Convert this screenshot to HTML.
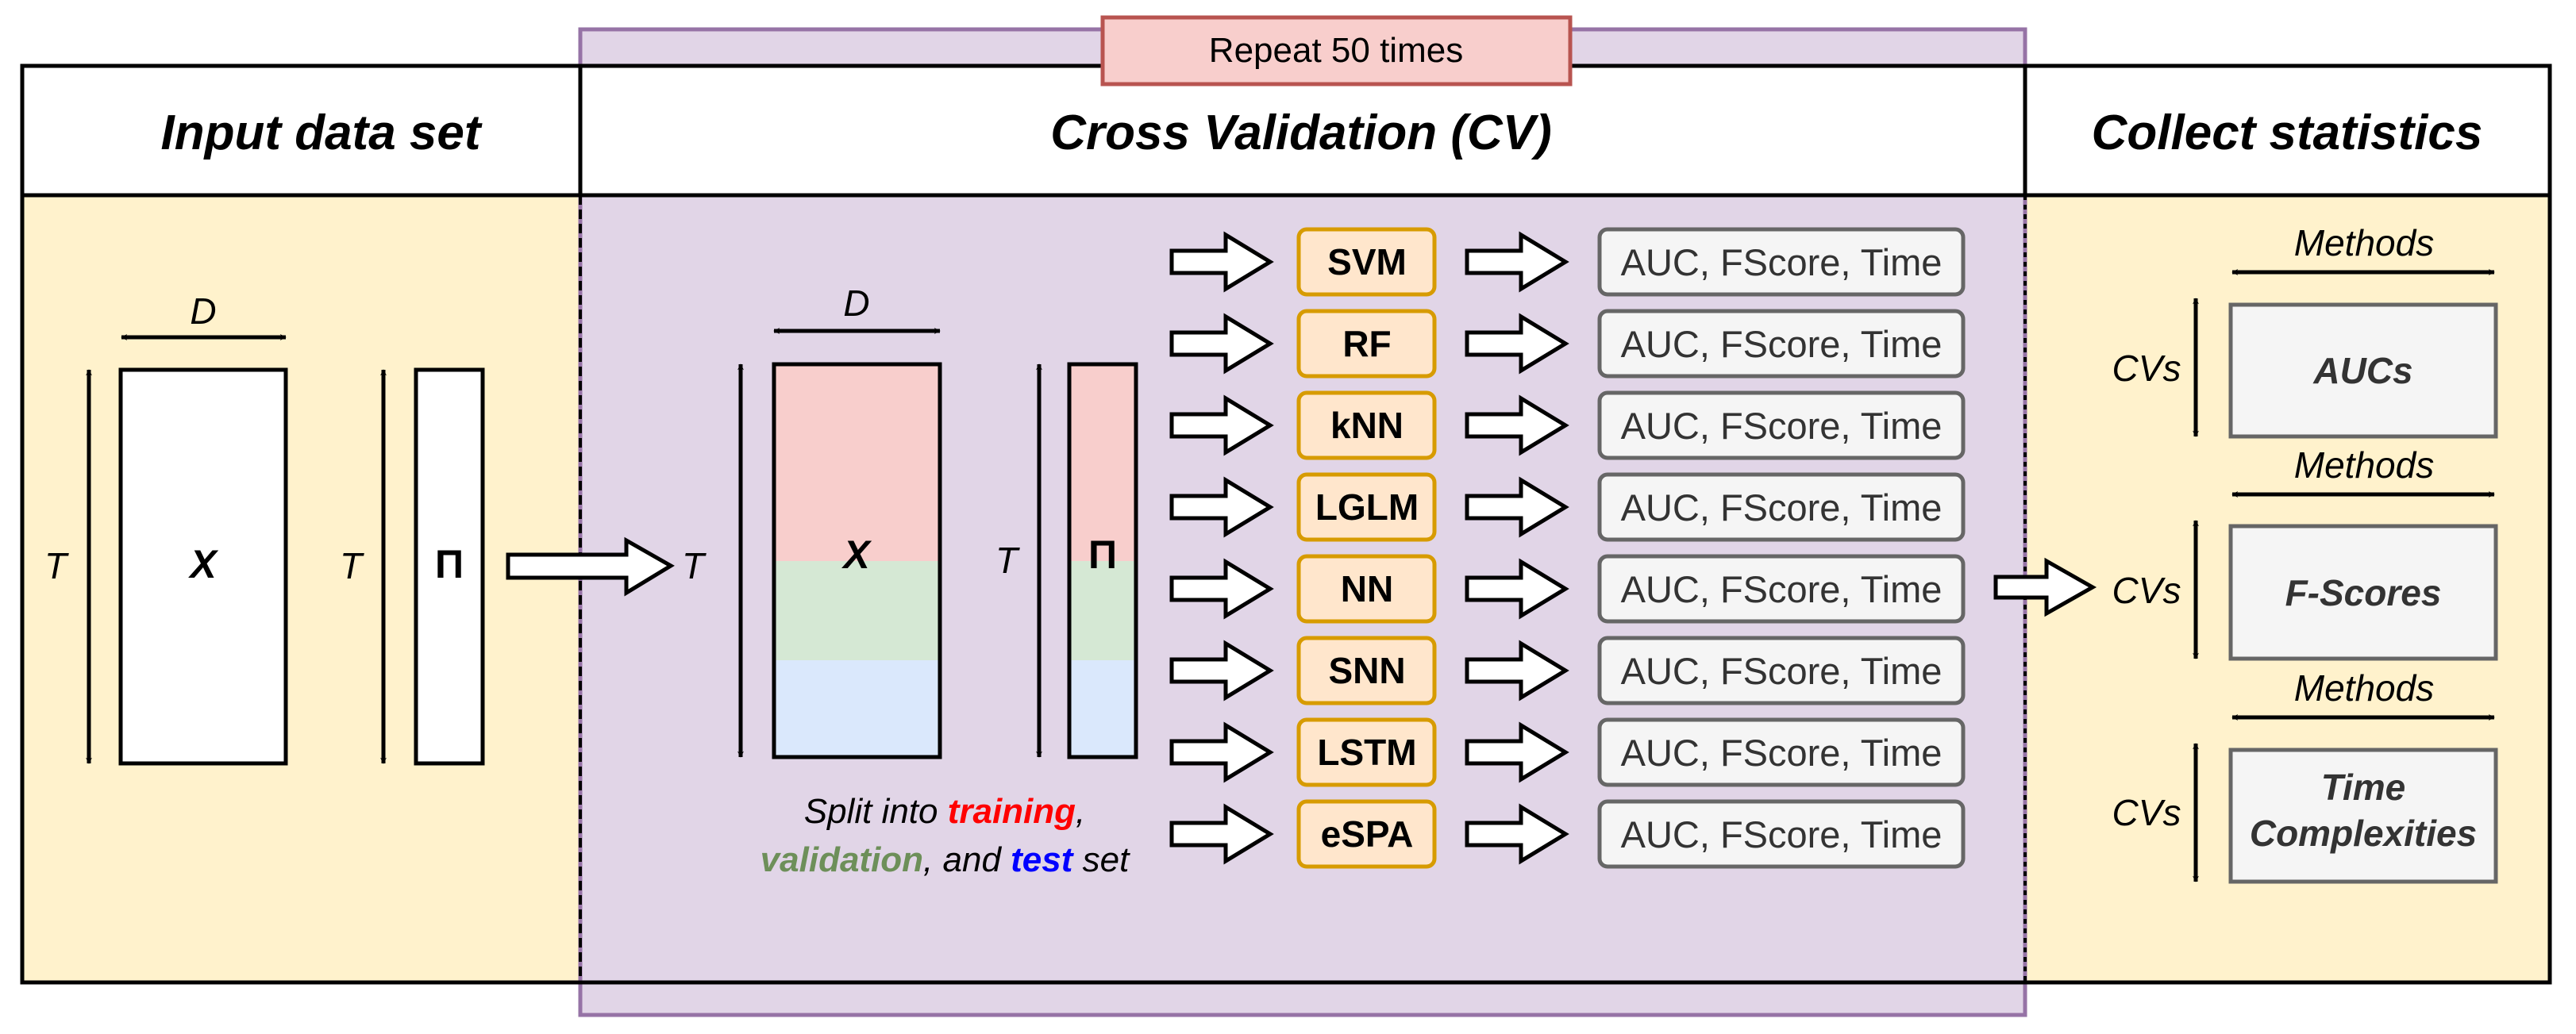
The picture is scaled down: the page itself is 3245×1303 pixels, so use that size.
<!DOCTYPE html>
<html><head><meta charset="utf-8"><style>
html,body{margin:0;padding:0;background:#fff;}
svg{display:block;}
text{font-family:"Liberation Sans",Arial,sans-serif;}
</style></head><body>
<svg width="3245" height="1303" viewBox="0 0 3245 1303" xmlns="http://www.w3.org/2000/svg">
<defs>
<marker id="ah" viewBox="0 0 20 20" refX="18" refY="10" markerWidth="8" markerHeight="8" markerUnits="userSpaceOnUse" orient="auto-start-reverse" overflow="visible">
<path d="M0,0 L20,10 L0,20 L6,10 Z" fill="#000"/>
</marker>
</defs>
<!-- yellow backgrounds -->
<rect x="28" y="246" width="703" height="992" fill="#fff2cc"/>
<rect x="2551" y="246" width="661" height="992" fill="#fff2cc"/>
<!-- purple -->
<rect x="731" y="37" width="1820" height="1242" fill="#e1d5e7" stroke="#9673a6" stroke-width="5"/>
<!-- headers white -->
<rect x="28" y="83" width="3184" height="163" fill="#fff"/>
<!-- outer box -->
<rect x="28" y="83" width="3184" height="1155" fill="none" stroke="#000" stroke-width="5"/>
<line x1="28" y1="246" x2="3212" y2="246" stroke="#000" stroke-width="5"/>
<line x1="731" y1="83" x2="731" y2="246" stroke="#000" stroke-width="5"/>
<line x1="2551" y1="83" x2="2551" y2="246" stroke="#000" stroke-width="5"/>
<line x1="731" y1="246" x2="731" y2="1238" stroke="#000" stroke-width="4" stroke-dasharray="12,6"/>
<line x1="2551" y1="246" x2="2551" y2="1238" stroke="#000" stroke-width="4" stroke-dasharray="6,6"/>
<!-- repeat -->
<rect x="1389" y="22" width="589" height="84" fill="#f8cecc" stroke="#b85450" stroke-width="5"/>
<text x="1683" y="78" font-size="44" text-anchor="middle">Repeat 50 times</text>
<!-- headers -->
<g font-size="62" font-weight="bold" font-style="italic" text-anchor="middle">
<text x="404" y="188">Input data set</text>
<text x="1639" y="188">Cross Validation (CV)</text>
<text x="2881" y="188">Collect statistics</text>
</g>
<!-- Input data -->
<rect x="152" y="466" width="208" height="496" fill="#fff" stroke="#000" stroke-width="5"/>
<rect x="524" y="466" width="84" height="496" fill="#fff" stroke="#000" stroke-width="5"/>
<g stroke="#000" stroke-width="5" marker-start="url(#ah)" marker-end="url(#ah)">
<line x1="153" y1="425" x2="360" y2="425"/>
<line x1="112" y1="466" x2="112" y2="962"/>
<line x1="483" y1="466" x2="483" y2="962"/>
<line x1="933" y1="459" x2="933" y2="954"/>
<line x1="975" y1="417" x2="1184" y2="417"/>
<line x1="1309" y1="459" x2="1309" y2="954"/>
</g>
<g font-size="46" font-style="italic" text-anchor="middle">
<text x="256" y="408">D</text>
<text x="70" y="729">T</text>
<text x="442" y="729">T</text>
<text x="873" y="729">T</text>
<text x="1079" y="398">D</text>
<text x="1268" y="722">T</text>
</g>
<text x="256" y="728" font-family="Liberation Serif,serif" font-size="50" font-weight="bold" font-style="italic" text-anchor="middle">X</text>
<text x="566" y="728" font-family="Liberation Serif,serif" font-size="50" font-weight="bold" text-anchor="middle">Π</text>
<!-- big arrow -->
<polygon points="640,699 789,699 789,681 845,713 789,747 789,728 640,728" fill="#fff" stroke="#000" stroke-width="5"/>
<!-- CV matrix -->
<rect x="975" y="459" width="209" height="248" fill="#f8cecc"/>
<rect x="975" y="707" width="209" height="125" fill="#d5e8d4"/>
<rect x="975" y="832" width="209" height="122" fill="#dae8fc"/>
<rect x="975" y="459" width="209" height="495" fill="none" stroke="#000" stroke-width="5"/>
<rect x="1347" y="459" width="84" height="248" fill="#f8cecc"/>
<rect x="1347" y="707" width="84" height="125" fill="#d5e8d4"/>
<rect x="1347" y="832" width="84" height="122" fill="#dae8fc"/>
<rect x="1347" y="459" width="84" height="495" fill="none" stroke="#000" stroke-width="5"/>
<text x="1079" y="716" font-family="Liberation Serif,serif" font-size="50" font-weight="bold" font-style="italic" text-anchor="middle">X</text>
<text x="1389" y="716" font-family="Liberation Serif,serif" font-size="50" font-weight="bold" text-anchor="middle">Π</text>
<g font-size="44" font-style="italic" text-anchor="middle">
<text x="1190" y="1037">Split into <tspan fill="#ff0000" font-weight="bold">training</tspan>,</text>
<text x="1190" y="1098"><tspan fill="#6d8f59" font-weight="bold">validation</tspan>, and <tspan fill="#0000ff" font-weight="bold">test</tspan> set</text>
</g>
<!-- model rows -->
<g id="rows">
<g transform="translate(0,330)">
<polygon points="1476,-14 1544,-14 1544,-34 1600,0 1544,34 1544,14 1476,14" fill="#fff" stroke="#000" stroke-width="5"/>
<rect x="1636" y="-41" width="171" height="82" rx="10" fill="#ffe6cc" stroke="#d79b00" stroke-width="5"/>
<polygon points="1848,-14 1916,-14 1916,-34 1972,0 1916,34 1916,14 1848,14" fill="#fff" stroke="#000" stroke-width="5"/>
<rect x="2015" y="-41" width="458" height="82" rx="10" fill="#f5f5f5" stroke="#666" stroke-width="5"/>
<text x="1722" y="16" font-size="46" font-weight="bold" text-anchor="middle">SVM</text>
<text x="2244" y="17" font-size="47" fill="#333" text-anchor="middle">AUC, FScore, Time</text>
</g>
<g transform="translate(0,433)">
<polygon points="1476,-14 1544,-14 1544,-34 1600,0 1544,34 1544,14 1476,14" fill="#fff" stroke="#000" stroke-width="5"/>
<rect x="1636" y="-41" width="171" height="82" rx="10" fill="#ffe6cc" stroke="#d79b00" stroke-width="5"/>
<polygon points="1848,-14 1916,-14 1916,-34 1972,0 1916,34 1916,14 1848,14" fill="#fff" stroke="#000" stroke-width="5"/>
<rect x="2015" y="-41" width="458" height="82" rx="10" fill="#f5f5f5" stroke="#666" stroke-width="5"/>
<text x="1722" y="16" font-size="46" font-weight="bold" text-anchor="middle">RF</text>
<text x="2244" y="17" font-size="47" fill="#333" text-anchor="middle">AUC, FScore, Time</text>
</g>
<g transform="translate(0,536)">
<polygon points="1476,-14 1544,-14 1544,-34 1600,0 1544,34 1544,14 1476,14" fill="#fff" stroke="#000" stroke-width="5"/>
<rect x="1636" y="-41" width="171" height="82" rx="10" fill="#ffe6cc" stroke="#d79b00" stroke-width="5"/>
<polygon points="1848,-14 1916,-14 1916,-34 1972,0 1916,34 1916,14 1848,14" fill="#fff" stroke="#000" stroke-width="5"/>
<rect x="2015" y="-41" width="458" height="82" rx="10" fill="#f5f5f5" stroke="#666" stroke-width="5"/>
<text x="1722" y="16" font-size="46" font-weight="bold" text-anchor="middle">kNN</text>
<text x="2244" y="17" font-size="47" fill="#333" text-anchor="middle">AUC, FScore, Time</text>
</g>
<g transform="translate(0,639)">
<polygon points="1476,-14 1544,-14 1544,-34 1600,0 1544,34 1544,14 1476,14" fill="#fff" stroke="#000" stroke-width="5"/>
<rect x="1636" y="-41" width="171" height="82" rx="10" fill="#ffe6cc" stroke="#d79b00" stroke-width="5"/>
<polygon points="1848,-14 1916,-14 1916,-34 1972,0 1916,34 1916,14 1848,14" fill="#fff" stroke="#000" stroke-width="5"/>
<rect x="2015" y="-41" width="458" height="82" rx="10" fill="#f5f5f5" stroke="#666" stroke-width="5"/>
<text x="1722" y="16" font-size="46" font-weight="bold" text-anchor="middle">LGLM</text>
<text x="2244" y="17" font-size="47" fill="#333" text-anchor="middle">AUC, FScore, Time</text>
</g>
<g transform="translate(0,742)">
<polygon points="1476,-14 1544,-14 1544,-34 1600,0 1544,34 1544,14 1476,14" fill="#fff" stroke="#000" stroke-width="5"/>
<rect x="1636" y="-41" width="171" height="82" rx="10" fill="#ffe6cc" stroke="#d79b00" stroke-width="5"/>
<polygon points="1848,-14 1916,-14 1916,-34 1972,0 1916,34 1916,14 1848,14" fill="#fff" stroke="#000" stroke-width="5"/>
<rect x="2015" y="-41" width="458" height="82" rx="10" fill="#f5f5f5" stroke="#666" stroke-width="5"/>
<text x="1722" y="16" font-size="46" font-weight="bold" text-anchor="middle">NN</text>
<text x="2244" y="17" font-size="47" fill="#333" text-anchor="middle">AUC, FScore, Time</text>
</g>
<g transform="translate(0,845)">
<polygon points="1476,-14 1544,-14 1544,-34 1600,0 1544,34 1544,14 1476,14" fill="#fff" stroke="#000" stroke-width="5"/>
<rect x="1636" y="-41" width="171" height="82" rx="10" fill="#ffe6cc" stroke="#d79b00" stroke-width="5"/>
<polygon points="1848,-14 1916,-14 1916,-34 1972,0 1916,34 1916,14 1848,14" fill="#fff" stroke="#000" stroke-width="5"/>
<rect x="2015" y="-41" width="458" height="82" rx="10" fill="#f5f5f5" stroke="#666" stroke-width="5"/>
<text x="1722" y="16" font-size="46" font-weight="bold" text-anchor="middle">SNN</text>
<text x="2244" y="17" font-size="47" fill="#333" text-anchor="middle">AUC, FScore, Time</text>
</g>
<g transform="translate(0,948)">
<polygon points="1476,-14 1544,-14 1544,-34 1600,0 1544,34 1544,14 1476,14" fill="#fff" stroke="#000" stroke-width="5"/>
<rect x="1636" y="-41" width="171" height="82" rx="10" fill="#ffe6cc" stroke="#d79b00" stroke-width="5"/>
<polygon points="1848,-14 1916,-14 1916,-34 1972,0 1916,34 1916,14 1848,14" fill="#fff" stroke="#000" stroke-width="5"/>
<rect x="2015" y="-41" width="458" height="82" rx="10" fill="#f5f5f5" stroke="#666" stroke-width="5"/>
<text x="1722" y="16" font-size="46" font-weight="bold" text-anchor="middle">LSTM</text>
<text x="2244" y="17" font-size="47" fill="#333" text-anchor="middle">AUC, FScore, Time</text>
</g>
<g transform="translate(0,1051)">
<polygon points="1476,-14 1544,-14 1544,-34 1600,0 1544,34 1544,14 1476,14" fill="#fff" stroke="#000" stroke-width="5"/>
<rect x="1636" y="-41" width="171" height="82" rx="10" fill="#ffe6cc" stroke="#d79b00" stroke-width="5"/>
<polygon points="1848,-14 1916,-14 1916,-34 1972,0 1916,34 1916,14 1848,14" fill="#fff" stroke="#000" stroke-width="5"/>
<rect x="2015" y="-41" width="458" height="82" rx="10" fill="#f5f5f5" stroke="#666" stroke-width="5"/>
<text x="1722" y="16" font-size="46" font-weight="bold" text-anchor="middle">eSPA</text>
<text x="2244" y="17" font-size="47" fill="#333" text-anchor="middle">AUC, FScore, Time</text>
</g>
</g>
<!-- right arrow -->
<polygon points="2514,727 2578,727 2578,707 2636,740 2578,773 2578,753 2514,753" fill="#fff" stroke="#000" stroke-width="5"/>
<!-- stats -->
<rect x="2810" y="384" width="334" height="166" fill="#f5f5f5" stroke="#666" stroke-width="5"/>
<rect x="2810" y="663" width="334" height="167" fill="#f5f5f5" stroke="#666" stroke-width="5"/>
<rect x="2810" y="945" width="334" height="166" fill="#f5f5f5" stroke="#666" stroke-width="5"/>
<g stroke="#000" stroke-width="5" marker-start="url(#ah)" marker-end="url(#ah)">
<line x1="2812" y1="343" x2="3142" y2="343"/>
<line x1="2812" y1="623" x2="3142" y2="623"/>
<line x1="2812" y1="904" x2="3142" y2="904"/>
<line x1="2766" y1="376" x2="2766" y2="550"/>
<line x1="2766" y1="656" x2="2766" y2="830"/>
<line x1="2766" y1="937" x2="2766" y2="1111"/>
</g>
<g font-size="46" font-style="italic" text-anchor="middle">
<text x="2978" y="322">Methods</text>
<text x="2978" y="602">Methods</text>
<text x="2978" y="883">Methods</text>
<text x="2704" y="480">CVs</text>
<text x="2704" y="760">CVs</text>
<text x="2704" y="1040">CVs</text>
</g>
<g font-size="46" font-style="italic" font-weight="bold" fill="#333" text-anchor="middle">
<text x="2977" y="483">AUCs</text>
<text x="2977" y="763">F-Scores</text>
<text x="2977" y="1008">Time</text>
<text x="2977" y="1066">Complexities</text>
</g>
</svg>
</body></html>
